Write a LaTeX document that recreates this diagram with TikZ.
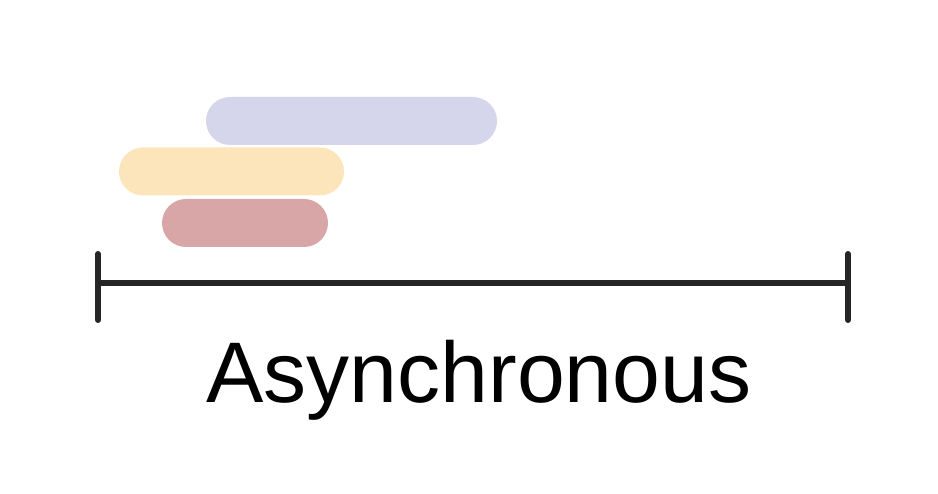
\documentclass[tikz,border=0pt]{standalone}
\usepackage{fontspec}
\setmainfont{Liberation Sans}
\usetikzlibrary{positioning}
\definecolor{barlilac}{RGB}{213, 213, 236}
\definecolor{barsand}{RGB}{252, 229, 186}
\definecolor{barrose}{RGB}{217, 166, 168}
\definecolor{axisgray}{RGB}{38, 38, 38}

\begin{document}
\begin{tikzpicture}[
    x=1pt, y=-1pt,
    task/.style={
      rectangle, rounded corners=24pt, draw=none,
      minimum height=48pt, inner sep=0pt
    },
    axis/.style={line width=6pt, color=axisgray},
    tick/.style={line width=6pt, color=axisgray, line cap=round},
    caption/.style={font=\fontsize{86}{100}\selectfont, text=black, inner sep=0pt, anchor=base}
]
  \useasboundingbox (0,0) rectangle (938,494);

  % Tasks
  \node[task, fill=barlilac, minimum width=291pt] (taskA) at (351.5,121) {};
  \node[task, fill=barsand,  minimum width=225pt] (taskB) at (231.5,171.5) {};
  \node[task, fill=barrose,  minimum width=166pt] (taskC) at (245,223) {};

  % Time axis
  \coordinate (start) at (98,283);
  \coordinate (end)   at (848,283);
  \coordinate (startTop) at (98,254);
  \coordinate (startBot) at (98,320);
  \coordinate (endTop)   at (848,254);
  \coordinate (endBot)   at (848,320);
  \draw[axis] (start) -- (end);
  \draw[tick] (startTop) -- (startBot);
  \draw[tick] (endTop) -- (endBot);

  % Label
  \node[caption] (label) at (479,403) {Asynchronous};
\end{tikzpicture}
\end{document}
